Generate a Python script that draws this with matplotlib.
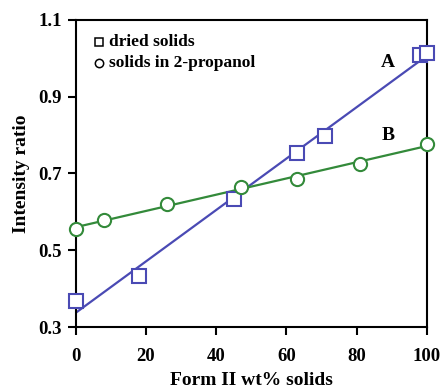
import numpy as np
import matplotlib
matplotlib.use("Agg")
import matplotlib.pyplot as plt

plt.rcParams['font.family'] = ['Liberation Serif', 'DejaVu Serif']
plt.rcParams['font.weight'] = 'bold'

# Dried solids (series A)
dried_x = [0, 18, 45, 63, 71, 98, 100]
dried_y = [0.368, 0.432, 0.633, 0.753, 0.798, 1.008, 1.013]

# Solids in 2-propanol (series B)
slurry_x = [0, 8, 26, 47, 63, 81, 100]
slurry_y = [0.556, 0.579, 0.620, 0.666, 0.685, 0.726, 0.777]

x_ticks = [0, 20, 40, 60, 80, 100]
y_ticks = [0.3, 0.5, 0.7, 0.9, 1.1]

blue = '#4a4ab4'
green = '#338a3a'

fig = plt.figure(figsize=(4.41, 3.89), dpi=100)
ax = fig.add_axes([0.172, 0.159, 0.796, 0.790])

# Least-squares fits for each series
xs = np.array([0, 100])
for x, y, c in [(dried_x, dried_y, blue), (slurry_x, slurry_y, green)]:
    m, b = np.polyfit(x, y, 1)
    ax.plot(xs, m * xs + b, color=c, lw=1.6, zorder=2)

ax.plot(dried_x, dried_y, ls='none', marker='s', ms=9.5, mfc='white',
        mec=blue, mew=1.5, zorder=3, clip_on=False)
ax.plot(slurry_x, slurry_y, ls='none', marker='o', ms=9.5, mfc='white',
        mec=green, mew=1.5, zorder=3, clip_on=False)

ax.text(89, 0.99, 'A', fontsize=14, fontweight='bold', ha='center', va='center')
ax.text(89, 0.80, 'B', fontsize=14, fontweight='bold', ha='center', va='center')

# Legend entries drawn as small black markers with labels
ax.plot([6.5], [1.043], ls='none', marker='s', ms=6, mfc='white', mec='black', mew=1.1)
ax.text(9.5, 1.043, 'dried solids', fontsize=12.5, fontweight='bold', va='center')
ax.plot([6.5], [0.988], ls='none', marker='o', ms=6, mfc='white', mec='black', mew=1.1)
ax.text(9.5, 0.988, 'solids in 2-propanol', fontsize=12.5, fontweight='bold', va='center')

ax.set_xlim(0, 100)
ax.set_ylim(0.3, 1.1)
ax.set_xticks(x_ticks)
ax.set_yticks(y_ticks)
ax.set_yticklabels([f'{v:.1f}' for v in y_ticks])
ax.tick_params(direction='out', length=6, width=1.5, labelsize=13.5)
ax.tick_params(axis='x', pad=9)
ax.tick_params(axis='y', pad=4)
for lbl in ax.get_xticklabels() + ax.get_yticklabels():
    lbl.set_fontweight('bold')
for s in ax.spines.values():
    s.set_linewidth(1.5)

ax.set_xlabel('Form II wt% solids', fontsize=14, fontweight='bold', labelpad=5)
ax.set_ylabel('Intensity ratio', fontsize=14, fontweight='bold', labelpad=6)

fig.savefig('out.png', dpi=100)
